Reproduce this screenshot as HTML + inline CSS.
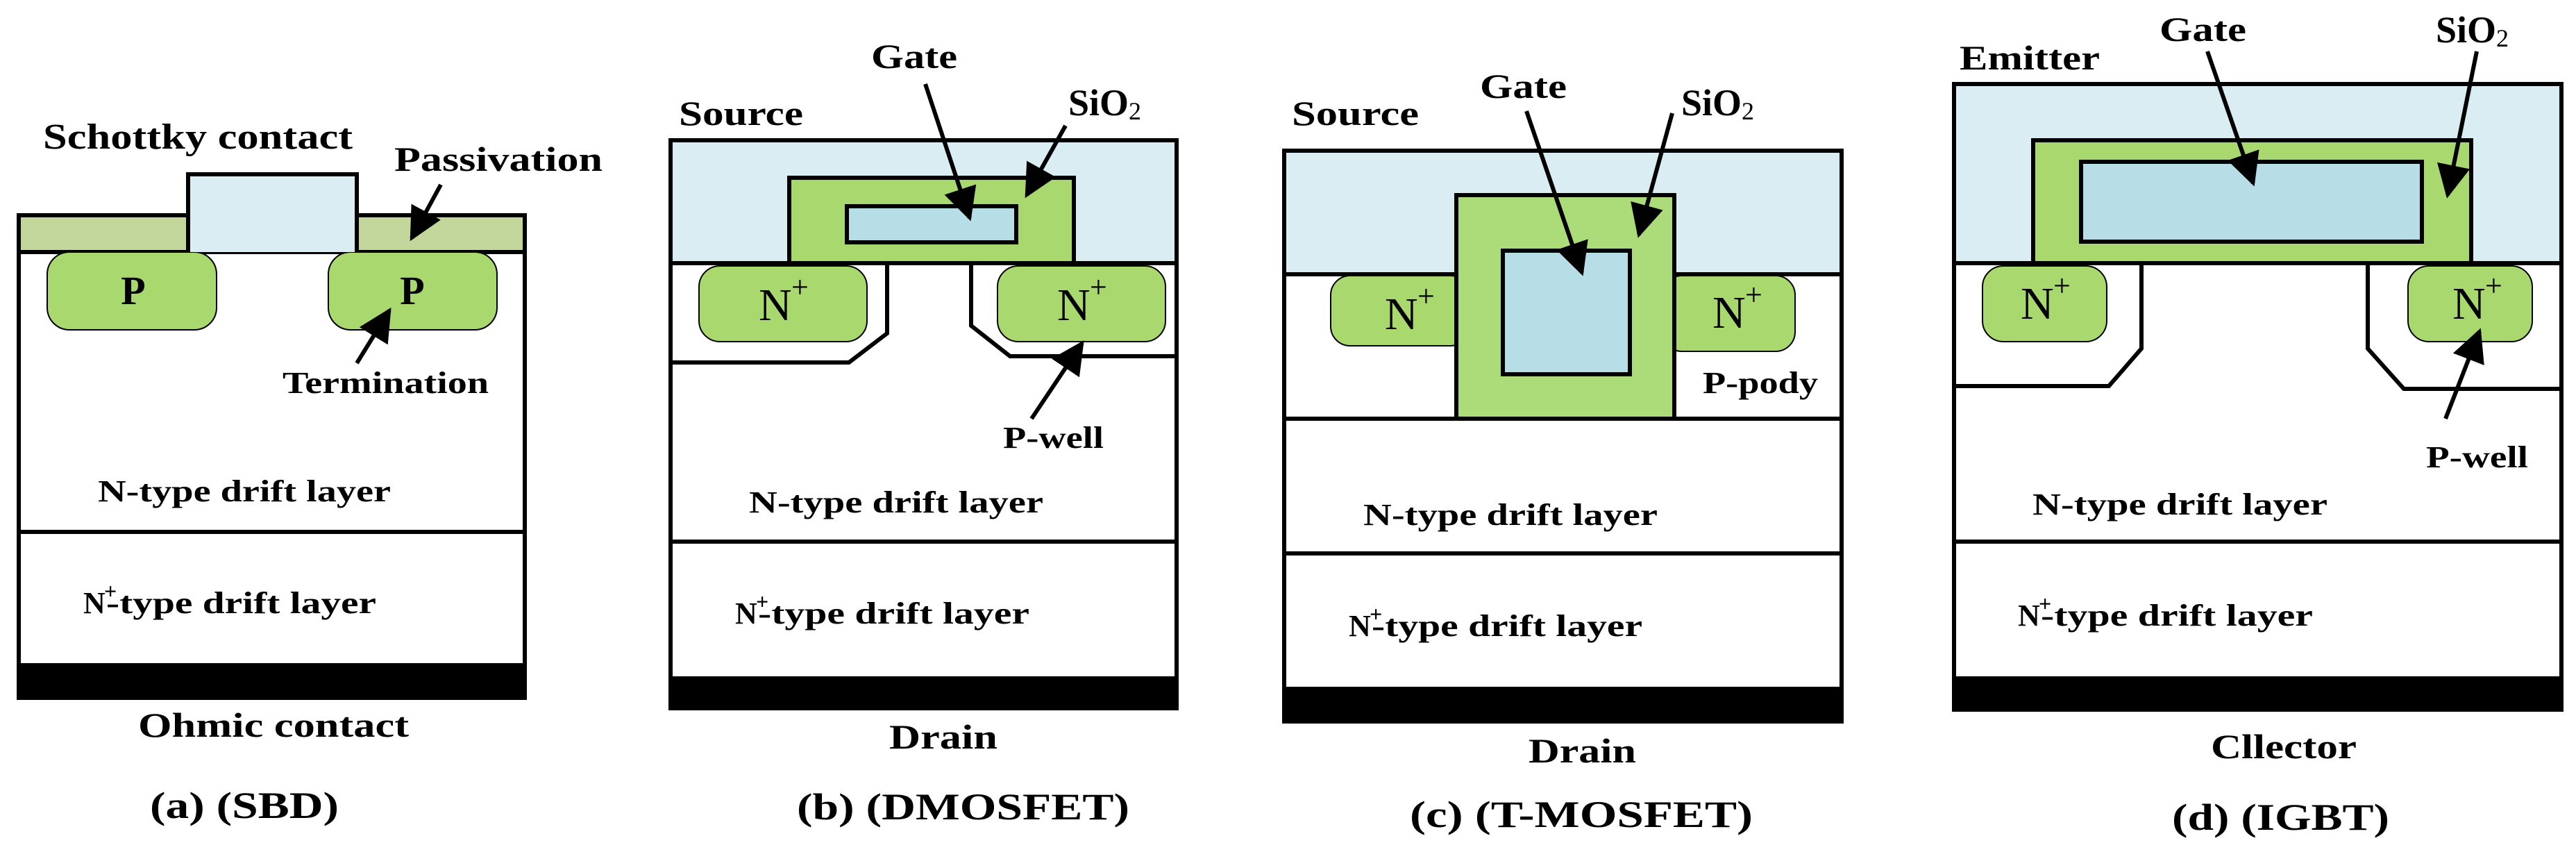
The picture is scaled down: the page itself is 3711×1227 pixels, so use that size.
<!DOCTYPE html>
<html><head><meta charset="utf-8"><style>
html,body{margin:0;padding:0;background:#fff;}
svg{display:block;}
text{font-family:"Liberation Serif",serif;font-weight:bold;fill:#000;}
.n{font-weight:normal;}
</style></head><body>
<svg width="3711" height="1227" viewBox="0 0 3711 1227" xmlns="http://www.w3.org/2000/svg">
<defs>
<marker id="ah" viewBox="0 0 10 10" refX="9" refY="5" markerWidth="9" markerHeight="8" markerUnits="strokeWidth" orient="auto">
<path d="M0,0 L10,5 L0,10 z" fill="#000"/></marker>
</defs>
<g stroke="#000" stroke-width="6" fill="none">

<!-- ===== Panel a ===== -->
<rect x="27" y="310" width="729" height="53" fill="#c3d69b" stroke-width="6"/>
<rect x="68" y="363" width="244" height="112" rx="32" fill="#a9d86e" stroke-width="2"/>
<rect x="473" y="363" width="243" height="112" rx="32" fill="#a9d86e" stroke-width="2"/>
<rect x="271" y="251" width="243" height="112" fill="#daedf2" stroke="none"/>
<path d="M271,363 V251 H514 V363" />
<path d="M27,363 V958 M756,363 V958"/>
<line x1="27" y1="766" x2="756" y2="766"/>
<rect x="27" y="958" width="729" height="47" fill="#000"/>
<line x1="635" y1="266" x2="593" y2="343" marker-end="url(#ah)"/>
<line x1="514" y1="523" x2="561" y2="447" marker-end="url(#ah)"/>

<!-- ===== Panel b ===== -->
<rect x="966" y="202" width="729" height="177" fill="#daedf2"/>
<rect x="1137" y="256" width="410" height="123" fill="#a9d86e"/>
<rect x="1220" y="297" width="244" height="52" fill="#b7dde6"/>
<path d="M966,379 V977 M1695,379 V977"/>
<rect x="1007" y="383" width="242" height="109" rx="30" fill="#a9d86e" stroke-width="2"/>
<rect x="1437" y="383" width="242" height="109" rx="30" fill="#a9d86e" stroke-width="2"/>
<path d="M1278,381 V480 L1223,522 H966"/>
<path d="M1399,381 V469 L1455,513 H1695"/>
<line x1="966" y1="780" x2="1695" y2="780"/>
<rect x="966" y="977" width="729" height="43" fill="#000"/>
<line x1="1333" y1="121" x2="1397" y2="314" marker-end="url(#ah)"/>
<line x1="1535" y1="181" x2="1479" y2="281" marker-end="url(#ah)"/>
<line x1="1486" y1="603" x2="1559" y2="494" marker-end="url(#ah)"/>

<!-- ===== Panel c ===== -->
<rect x="1850" y="217" width="803" height="178" fill="#daedf2"/>
<path d="M1850,395 V992 M2653,395 V992"/>
<rect x="1917" y="397" width="200" height="101" rx="28" fill="#a9d86e" stroke-width="2"/>
<rect x="2395" y="397" width="191" height="109" rx="28" fill="#a9d86e" stroke-width="2"/>
<rect x="2098" y="281" width="314" height="322" fill="#acdb7a"/>
<rect x="2165" y="361" width="183" height="178" fill="#b7dde6"/>
<line x1="1850" y1="603" x2="2653" y2="603"/>
<line x1="1850" y1="797" x2="2653" y2="797"/>
<rect x="1850" y="992" width="803" height="47" fill="#000"/>
<line x1="2199" y1="160" x2="2279" y2="393" marker-end="url(#ah)"/>
<line x1="2409" y1="163" x2="2361" y2="338" marker-end="url(#ah)"/>

<!-- ===== Panel d ===== -->
<rect x="2815" y="121" width="875" height="258" fill="#daedf2"/>
<rect x="2929" y="202" width="631" height="177" fill="#a9d86e"/>
<rect x="2998" y="233" width="491" height="115" fill="#b7dde6"/>
<path d="M2815,379 V977 M3690,379 V977"/>
<rect x="2856" y="383" width="179" height="109" rx="30" fill="#a9d86e" stroke-width="2"/>
<rect x="3469" y="383" width="179" height="109" rx="30" fill="#a9d86e" stroke-width="2"/>
<path d="M3085,381 V502 L3038,556 H2815"/>
<path d="M3411,381 V502 L3463,560 H3690"/>
<line x1="2815" y1="780" x2="3690" y2="780"/>
<rect x="2815" y="977" width="875" height="45" fill="#000"/>
<line x1="3180" y1="74" x2="3246" y2="264" marker-end="url(#ah)"/>
<line x1="3568" y1="74" x2="3526" y2="281" marker-end="url(#ah)"/>
<line x1="3523" y1="603" x2="3572" y2="477" marker-end="url(#ah)"/>
</g>

<!-- ===== Text a ===== -->
<text x="62" y="214" font-size="52" textLength="446" lengthAdjust="spacingAndGlyphs">Schottky contact</text>
<text x="568" y="246" font-size="50" textLength="300" lengthAdjust="spacingAndGlyphs">Passivation</text>
<text x="192" y="438" font-size="58" text-anchor="middle">P</text>
<text x="594" y="438" font-size="58" text-anchor="middle">P</text>
<text x="407" y="566" font-size="44" textLength="297" lengthAdjust="spacingAndGlyphs">Termination</text>
<text x="141" y="722" font-size="44" textLength="422" lengthAdjust="spacingAndGlyphs">N-type drift layer</text>
<text x="120" y="883" font-size="44">N</text><text x="150" y="862" font-size="32">+</text>
<text x="153" y="883" font-size="44" textLength="389" lengthAdjust="spacingAndGlyphs">-type drift layer</text>
<text x="199" y="1061" font-size="50" textLength="390" lengthAdjust="spacingAndGlyphs">Ohmic contact</text>
<text x="216" y="1178" font-size="54" textLength="272" lengthAdjust="spacingAndGlyphs">(a) (SBD)</text>

<!-- ===== Text b ===== -->
<text x="1255" y="98" font-size="50" textLength="124" lengthAdjust="spacingAndGlyphs">Gate</text>
<text x="1539" y="166" font-size="54">SiO<tspan font-size="36" font-weight="normal" dy="6">2</tspan></text>
<text x="978" y="180" font-size="50" textLength="179" lengthAdjust="spacingAndGlyphs">Source</text>
<text class="n" x="1093" y="461" font-size="66">N</text><text class="n" x="1140" y="428" font-size="44">+</text>
<text class="n" x="1523" y="461" font-size="66">N</text><text class="n" x="1570" y="428" font-size="44">+</text>
<text x="1445" y="645" font-size="44" textLength="145" lengthAdjust="spacingAndGlyphs">P-well</text>
<text x="1079" y="738" font-size="44" textLength="424" lengthAdjust="spacingAndGlyphs">N-type drift layer</text>
<text x="1059" y="898" font-size="44">N</text><text x="1089" y="877" font-size="32">+</text>
<text x="1092" y="898" font-size="44" textLength="391" lengthAdjust="spacingAndGlyphs">-type drift layer</text>
<text x="1281" y="1078" font-size="50" textLength="156" lengthAdjust="spacingAndGlyphs">Drain</text>
<text x="1148" y="1180" font-size="54" textLength="479" lengthAdjust="spacingAndGlyphs">(b) (DMOSFET)</text>

<!-- ===== Text c ===== -->
<text x="2132" y="141" font-size="50" textLength="125" lengthAdjust="spacingAndGlyphs">Gate</text>
<text x="2422" y="166" font-size="54">SiO<tspan font-size="36" font-weight="normal" dy="6">2</tspan></text>
<text x="1861" y="180" font-size="50" textLength="183" lengthAdjust="spacingAndGlyphs">Source</text>
<text class="n" x="1995" y="474" font-size="66">N</text><text class="n" x="2042" y="441" font-size="44">+</text>
<text class="n" x="2467" y="472" font-size="66">N</text><text class="n" x="2514" y="439" font-size="44">+</text>
<text x="2453" y="566" font-size="44" textLength="166" lengthAdjust="spacingAndGlyphs">P-pody</text>
<text x="1964" y="756" font-size="44" textLength="424" lengthAdjust="spacingAndGlyphs">N-type drift layer</text>
<text x="1943" y="916" font-size="44">N</text><text x="1973" y="895" font-size="32">+</text>
<text x="1976" y="916" font-size="44" textLength="390" lengthAdjust="spacingAndGlyphs">-type drift layer</text>
<text x="2202" y="1098" font-size="50" textLength="155" lengthAdjust="spacingAndGlyphs">Drain</text>
<text x="2031" y="1191" font-size="54" textLength="494" lengthAdjust="spacingAndGlyphs">(c) (T-MOSFET)</text>

<!-- ===== Text d ===== -->
<text x="2823" y="100" font-size="50" textLength="202" lengthAdjust="spacingAndGlyphs">Emitter</text>
<text x="3111" y="59" font-size="50" textLength="125" lengthAdjust="spacingAndGlyphs">Gate</text>
<text x="3509" y="61" font-size="54">SiO<tspan font-size="36" font-weight="normal" dy="6">2</tspan></text>
<text class="n" x="2911" y="459" font-size="66">N</text><text class="n" x="2958" y="426" font-size="44">+</text>
<text class="n" x="3533" y="459" font-size="66">N</text><text class="n" x="3580" y="426" font-size="44">+</text>
<text x="3495" y="673" font-size="44" textLength="147" lengthAdjust="spacingAndGlyphs">P-well</text>
<text x="2928" y="741" font-size="44" textLength="425" lengthAdjust="spacingAndGlyphs">N-type drift layer</text>
<text x="2907" y="901" font-size="44">N</text><text x="2937" y="880" font-size="32">+</text>
<text x="2940" y="901" font-size="44" textLength="392" lengthAdjust="spacingAndGlyphs">-type drift layer</text>
<text x="3185" y="1092" font-size="50" textLength="210" lengthAdjust="spacingAndGlyphs">Cllector</text>
<text x="3129" y="1195" font-size="54" textLength="313" lengthAdjust="spacingAndGlyphs">(d) (IGBT)</text>
</svg>
</body></html>
